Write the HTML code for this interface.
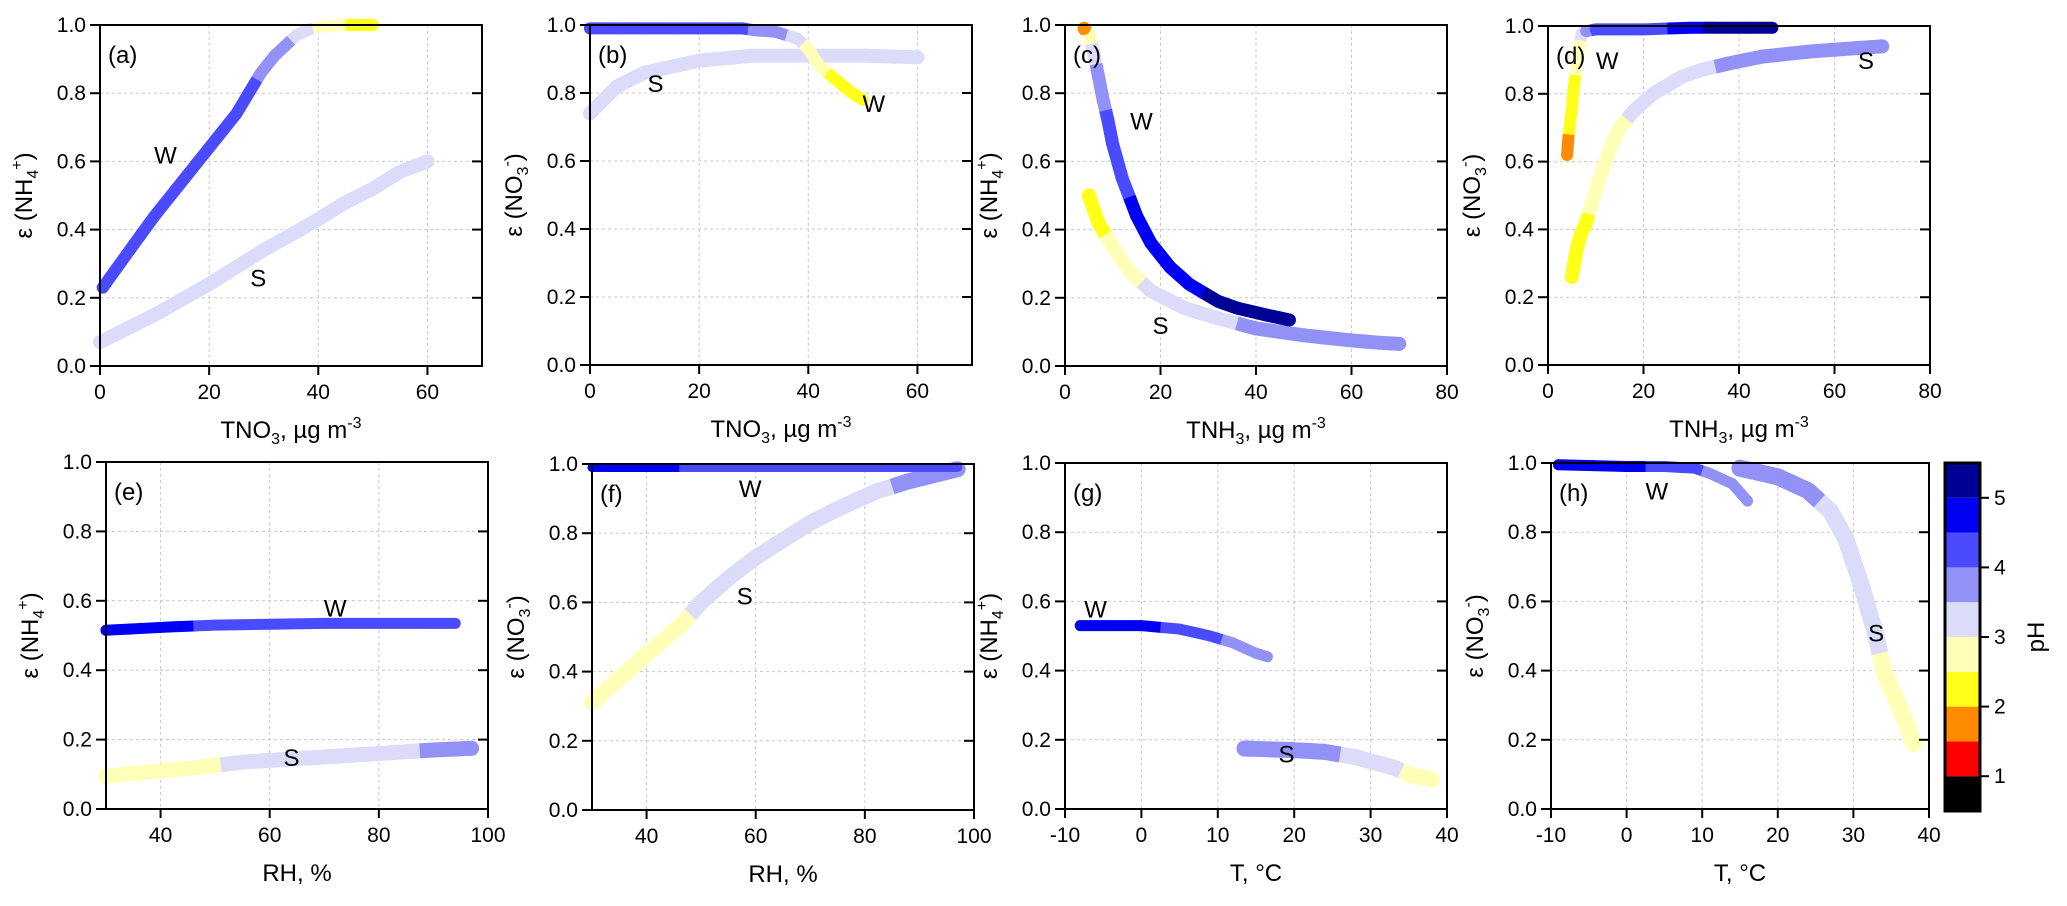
<!DOCTYPE html>
<html><head><meta charset="utf-8"><style>
html,body{margin:0;padding:0;background:#fff;}
svg{display:block;font-family:"Liberation Sans",Arial,sans-serif;}
</style></head><body>
<svg id="chart" xmlns="http://www.w3.org/2000/svg" width="2067" height="906" viewBox="0 0 2067 906">
<g id="panels"></g>
<g id="colorbar"></g>
</svg>
<script>
// ---- data ----
const pHTicks = [1,2,3,4,5];
const xTicksTNO3 = [0,20,40,60];
const xTicksTNH3 = [0,20,40,60,80];
const xTicksRH = [40,60,80,100];
const xTicksT = [-10,0,10,20,30,40];
const yTicks = [0,0.2,0.4,0.6,0.8,1.0];

const aWx=[0.5,5,10,15,20,25,28,29.5,32,34,36,38,40,44,46,50];
const aWy=[0.23,0.33,0.44,0.54,0.64,0.74,0.82,0.86,0.91,0.94,0.97,0.985,0.995,1.0,1.0,1.0];
const aWp=[4.2,4.2,4.2,4.2,4.2,4.2,4.2,3.7,3.7,3.7,3.2,3.2,2.7,2.7,2.2,2.2];
const aSx=[0,10,20,30,40,45,50,55,60];
const aSy=[0.07,0.15,0.24,0.34,0.43,0.48,0.52,0.57,0.6];
const aSp=[3.2,3.2,3.2,3.2,3.2,3.2,3.2,3.2,3.2];

const bWx=[0,10,20,28,30,34,38,40,42,45,48,50];
const bWy=[0.99,0.99,0.99,0.99,0.985,0.98,0.96,0.93,0.88,0.84,0.80,0.78];
const bWp=[4.2,4.2,4.2,4.2,3.7,3.7,3.2,2.7,2.7,2.2,2.2,2.2];
const bSx=[0,5,10,20,30,40,50,60];
const bSy=[0.74,0.82,0.86,0.895,0.91,0.91,0.91,0.905];
const bSp=[3.2,3.2,3.2,3.2,3.2,3.2,3.2,3.2];

const cWx=[4,5,6,7,8,9,10,12,15,18,22,26,32,36,42,47];
const cWy=[0.99,0.97,0.92,0.85,0.78,0.72,0.65,0.55,0.44,0.36,0.29,0.24,0.19,0.17,0.15,0.135];
const cWp=[1.8,2.7,3.2,3.7,3.7,4.2,4.2,4.2,4.7,4.7,4.7,4.7,5.2,5.2,5.2,5.2];
const cSx=[5,6,7,10,14,18,25,32,40,50,60,66,70];
const cSy=[0.5,0.46,0.42,0.35,0.27,0.22,0.17,0.14,0.11,0.09,0.075,0.068,0.065];
const cSp=[2.2,2.2,2.2,2.7,2.7,3.2,3.2,3.2,3.7,3.7,3.7,3.7,3.7];

const dWx=[4,4.2,4.5,5,5.5,6,6.5,7,8,10,20,30,35,47];
const dWy=[0.62,0.66,0.70,0.76,0.83,0.88,0.94,0.975,0.985,0.99,0.99,0.995,0.995,0.995];
const dWp=[1.8,1.8,2.2,2.2,2.2,2.7,2.7,3.2,3.7,4.2,4.2,4.7,5.2,5.2];
const dSx=[5,5.5,6,7,8,9,11,13,15,18,22,28,32,38,45,55,65,70];
const dSy=[0.26,0.3,0.34,0.39,0.42,0.47,0.56,0.64,0.7,0.75,0.8,0.85,0.87,0.89,0.91,0.925,0.935,0.94];
const dSp=[2.2,2.2,2.2,2.2,2.2,2.7,2.7,2.7,2.7,3.2,3.2,3.2,3.2,3.7,3.7,3.7,3.7,3.7];

const eWx=[30,42,50,70,90,94];
const eWy=[0.515,0.525,0.53,0.535,0.535,0.535];
const eWp=[4.7,4.7,4.2,4.2,4.2,4.2];
const eSx=[30,47,55,70,85,90,97];
const eSy=[0.095,0.12,0.135,0.15,0.165,0.17,0.175];
const eSp=[2.7,2.7,3.2,3.2,3.2,3.7,3.7];

const fWx=[30,42,50,70,90,97];
const fWy=[0.99,0.99,0.99,0.99,0.99,0.99];
const fWp=[4.7,4.7,4.2,4.2,4.2,4.2];
const fSx=[30,35,40,46,50,55,60,65,70,75,82,88,97];
const fSy=[0.31,0.38,0.45,0.53,0.6,0.67,0.73,0.78,0.83,0.87,0.92,0.95,0.985];
const fSp=[2.7,2.7,2.7,2.7,3.2,3.2,3.2,3.2,3.2,3.2,3.2,3.7,3.7];

const gWx=[-8,0,5,9,12,15,16.5];
const gWy=[0.53,0.53,0.52,0.50,0.48,0.45,0.44];
const gWp=[4.7,4.7,4.2,4.2,3.7,3.7,3.7];
const gSx=[13.5,20,24,28,33,35,38];
const gSy=[0.175,0.17,0.165,0.15,0.12,0.1,0.085];
const gSp=[3.7,3.7,3.7,3.2,3.2,2.7,2.7];

const hWx=[-9,0,5,9,11,14,16];
const hWy=[0.995,0.99,0.99,0.985,0.97,0.94,0.89];
const hWp=[4.7,4.7,4.2,4.2,3.7,3.7,3.7];
const hSx=[15,20,24,27,29,31,33,34,36,38];
const hSy=[0.985,0.96,0.92,0.86,0.78,0.65,0.5,0.4,0.3,0.19];
const hSp=[3.7,3.7,3.7,3.2,3.2,3.2,3.2,2.7,2.7,2.7];

// ---- colours for pH bands (0.5..5.5 step 0.5) ----
const bandColors=['#000000','#ff0000','#ff8c00','#ffff1a','#ffffb8','#dcdcfa','#9191f7','#4a4aff','#0000f5','#000096'];
function phColor(p){let i=Math.floor((p-0.5)/0.5);if(i<0)i=0;if(i>9)i=9;return bandColors[i];}

const NS='http://www.w3.org/2000/svg';
function mk(tag,attrs,parent){const e=document.createElementNS(NS,tag);for(const k in attrs)e.setAttribute(k,attrs[k]);if(parent)parent.appendChild(e);return e;}

const panels=[
 {id:'a',x0:100,y0:25,w:382,h:341,xmin:0,xmax:70,xt:xTicksTNO3,xl:'TNO',xsub:'3',xunit:true,yl:'NH',ysub:'4',ysup:'+',
  W:[aWx,aWy,aWp],S:[aSx,aSy,aSp],ws:12,ss:14,wl:[12,0.62],sl:[29,0.26]},
 {id:'b',x0:590,y0:25,w:382,h:340,xmin:0,xmax:70,xt:xTicksTNO3,xl:'TNO',xsub:'3',xunit:true,yl:'NO',ysub:'3',ysup:'-',
  W:[bWx,bWy,bWp],S:[bSx,bSy,bSp],ws:12,ss:14,wl:[52,0.77],sl:[12,0.83]},
 {id:'c',x0:1065,y0:25,w:382,h:341,xmin:0,xmax:80,xt:xTicksTNH3,xl:'TNH',xsub:'3',xunit:true,yl:'NH',ysub:'4',ysup:'+',
  W:[cWx,cWy,cWp],S:[cSx,cSy,cSp],ws:13,ss:14,wl:[16,0.72],sl:[20,0.12]},
 {id:'d',x0:1548,y0:26,w:382,h:339,xmin:0,xmax:80,xt:xTicksTNH3,xl:'TNH',xsub:'3',xunit:true,yl:'NO',ysub:'3',ysup:'-',
  W:[dWx,dWy,dWp],S:[dSx,dSy,dSp],ws:12,ss:14,wl:[12.4,0.9],sl:[66.6,0.9]},
 {id:'e',x0:106,y0:462,w:382,h:347,xmin:30,xmax:100,xt:xTicksRH,xl:'RH, %',yl:'NH',ysub:'4',ysup:'+',
  W:[eWx,eWy,eWp],S:[eSx,eSy,eSp],ws:11,ss:15,wl:[72,0.58],sl:[64,0.15]},
 {id:'f',x0:592,y0:464,w:382,h:346,xmin:30,xmax:100,xt:xTicksRH,xl:'RH, %',yl:'NO',ysub:'3',ysup:'-',
  W:[fWx,fWy,fWp],S:[fSx,fSy,fSp],ws:9,ss:16,wl:[59,0.93],sl:[58,0.62]},
 {id:'g',x0:1065,y0:463,w:382,h:346,xmin:-10,xmax:40,xt:xTicksT,xl:'T, °C',yl:'NH',ysub:'4',ysup:'+',
  W:[gWx,gWy,gWp],S:[gSx,gSy,gSp],ws:11,ss:16,wl:[-6,0.58],sl:[19,0.16]},
 {id:'h',x0:1551,y0:463,w:378,h:346,xmin:-10,xmax:40,xt:xTicksT,xl:'T, °C',yl:'NO',ysub:'3',ysup:'-',
  W:[hWx,hWy,hWp],S:[hSx,hSy,hSp],ws:11,ss:17,wl:[4,0.92],sl:[33,0.51]}
];

const root=document.getElementById('panels');
panels.forEach(p=>{
  const g=mk('g',{},root);
  
  
  const sx=v=>p.x0+(v-p.xmin)/(p.xmax-p.xmin)*p.w;
  const sy=v=>p.y0+p.h-v*p.h;
  const grid=mk('g',{stroke:'#c8c8c8','stroke-width':1,'stroke-dasharray':'3,3'},g);
  
  
  p.xt.forEach(t=>{if(t>p.xmin&&t<p.xmax){mk('line',{x1:sx(t),x2:sx(t),y1:p.y0,y2:p.y0+p.h},grid);}});
  yTicks.forEach(t=>{if(t>0&&t<1){mk('line',{x1:p.x0,x2:p.x0+p.w,y1:sy(t),y2:sy(t)},grid);}});
  function drawSeries(arr,sw,name){
    const sg=mk('g',{},g);
    
    
    const [xs,ys,ps]=arr;
    for(let i=0;i<xs.length-1;i++){
      const x1=sx(xs[i]),y1=sy(ys[i]),x2=sx(xs[i+1]),y2=sy(ys[i+1]);
      const mx=(x1+x2)/2,my=(y1+y2)/2;
      const l1=mk('line',{x1:x1,y1:y1,x2:mx,y2:my,stroke:phColor(ps[i]),'stroke-width':sw,'stroke-linecap':'round'},sg);
      
      
      const l2=mk('line',{x1:mx,y1:my,x2:x2,y2:y2,stroke:phColor(ps[i+1]),'stroke-width':sw,'stroke-linecap':'butt'},sg);
      
      
    }
    [0,xs.length-1].forEach(i=>{
      const c=mk('circle',{cx:sx(xs[i]),cy:sy(ys[i]),r:sw/2,fill:phColor(ps[i])},sg);
      
      
    });
  }
  drawSeries(p.S,p.ss,'series-s-'+p.id);
  drawSeries(p.W,p.ws,'series-w-'+p.id);
  const fr=mk('rect',{x:p.x0,y:p.y0,width:p.w,height:p.h,fill:'none',stroke:'#000','stroke-width':2},g);
  
  
  const tk=mk('g',{stroke:'#000','stroke-width':2},g);
  p.xt.forEach(t=>{mk('line',{x1:sx(t),x2:sx(t),y1:p.y0+p.h,y2:p.y0+p.h+9},tk);});
  yTicks.forEach(t=>{mk('line',{x1:p.x0-10,x2:p.x0,y1:sy(t),y2:sy(t)},tk);mk('line',{x1:p.x0+p.w-10,x2:p.x0+p.w,y1:sy(t),y2:sy(t)},tk);});
  p.xt.forEach(t=>{
    const tx=mk('text',{x:sx(t),y:p.y0+p.h+33,'text-anchor':'middle','font-size':21},g);
    tx.textContent=String(t);
    
    
  });
  yTicks.forEach(t=>{
    const tx=mk('text',{x:p.x0-14,y:sy(t)+7,'text-anchor':'end','font-size':21},g);
    tx.textContent=t.toFixed(1);
    
    
  });
  const xt=mk('text',{x:p.x0+p.w/2,y:p.y0+p.h+72,'text-anchor':'middle','font-size':24},g);
  
  
  if(p.xunit){
    xt.appendChild(document.createTextNode(p.xl));
    mk('tspan',{'font-size':16,dy:6},xt).textContent=p.xsub;
    mk('tspan',{dy:-6},xt).textContent=', µg m';
    mk('tspan',{'font-size':16,dy:-10},xt).textContent='-3';
  } else xt.textContent=p.xl;
  const yx=p.x0-68, yy=p.y0+p.h/2;
  const yt=mk('text',{x:yx,y:yy,'text-anchor':'middle','font-size':24,transform:'rotate(-90 '+yx+' '+yy+')'},g);
  
  
  yt.appendChild(document.createTextNode('ε ('+p.yl));
  mk('tspan',{'font-size':16,dy:6},yt).textContent=p.ysub;
  mk('tspan',{'font-size':16,dy:-16},yt).textContent=p.ysup;
  mk('tspan',{dy:10},yt).textContent=')';
  const pl=mk('text',{x:p.x0+8,y:p.y0+38,'font-size':24},g);
  pl.textContent='('+p.id+')';
  
  
  const wl=mk('text',{x:sx(p.wl[0]),y:sy(p.wl[1])+9,'text-anchor':'middle','font-size':24},g);
  wl.textContent='W';
  
  
  const sl=mk('text',{x:sx(p.sl[0]),y:sy(p.sl[1])+9,'text-anchor':'middle','font-size':24},g);
  sl.textContent='S';
  
  
});

const cb=document.getElementById('colorbar');
const cbx=1945, cbw=35, cbTop=463, cbBot=811, pmin=0.5, pmax=5.5;
const cy=v=>cbBot-(v-pmin)/(pmax-pmin)*(cbBot-cbTop);
bandColors.forEach((c,i)=>{
  const lo=pmin+i*0.5, hi=lo+0.5;
  const r=mk('rect',{x:cbx,y:cy(hi),width:cbw,height:cy(lo)-cy(hi),fill:c},cb);
  
  
});
mk('rect',{x:cbx,y:cbTop,width:cbw,height:cbBot-cbTop,fill:'none',stroke:'#000','stroke-width':3},cb);
pHTicks.forEach(t=>{
  mk('line',{x1:cbx+cbw,x2:cbx+cbw+9,y1:cy(t),y2:cy(t),stroke:'#000','stroke-width':2},cb);
  const tx=mk('text',{x:cbx+cbw+14,y:cy(t)+7,'font-size':21},cb);
  tx.textContent=String(t);
  
  
});
const pht=mk('text',{x:2044,y:637,'text-anchor':'middle','font-size':24,transform:'rotate(-90 2044 637)'},cb);
pht.textContent='pH';


</script>
</body></html>
